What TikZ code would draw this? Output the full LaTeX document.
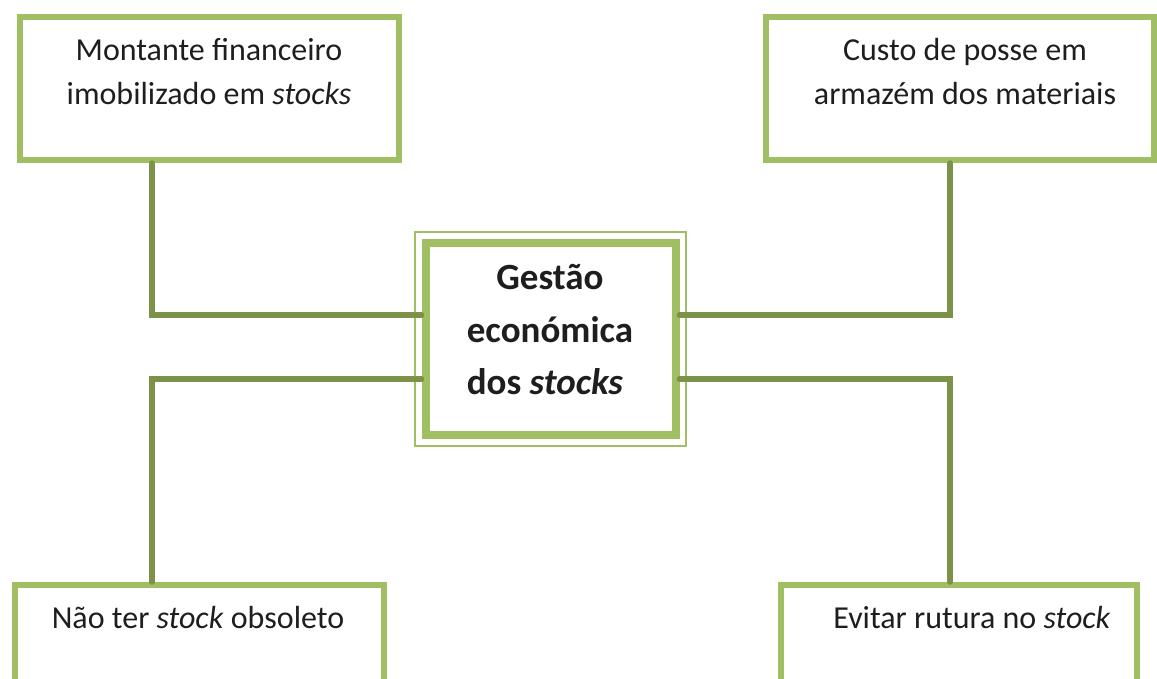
\documentclass[tikz,border=0pt]{standalone}
\usepackage{fontspec}
\setmainfont{Carlito}
\definecolor{boxgreen}{RGB}{160,190,98}
\definecolor{linkgreen}{RGB}{124,146,72}
\definecolor{txt}{RGB}{30,30,30}
\tikzset{
  sidebox/.style={draw=boxgreen, line width=6pt, fill=white, inner sep=0pt},
  link/.style={draw=linkgreen, line width=5.5pt, line cap=round},
  lbl/.style={font=\fontsize{32}{48}\selectfont, text=txt, align=center, anchor=base, inner sep=0pt},
  clbl/.style={font=\fontsize{37}{52}\selectfont\bfseries, text=txt, align=center, anchor=base, inner sep=0pt},
}
\begin{document}
\begin{tikzpicture}[x=1pt,y=-1pt]
\useasboundingbox (0,0) rectangle (1157,679);
\clip (0,0) rectangle (1157,679);
% boxes
\node[sidebox, minimum width=379pt, minimum height=143pt] (tl) at (209.5,88.5) {};
\node[sidebox, minimum width=388pt, minimum height=143pt] (tr) at (960,88.5) {};
\node[sidebox, minimum width=369pt, minimum height=143pt] (bl) at (199.5,656.5) {};
\node[sidebox, minimum width=356pt, minimum height=143pt] (br) at (959,656.5) {};
\node[draw=boxgreen, line width=8pt, fill=white, minimum width=250pt, minimum height=192pt, inner sep=0pt] (c) at (550.5,339) {};
\draw[boxgreen, line width=2pt] ([shift={(-6.5,-6.5)}]c.north west) rectangle ([shift={(6.5,6.5)}]c.south east);
% connectors
\draw[link] ([xshift=-57.5pt]tl.south) |- ([yshift=24pt]c.west);
\draw[link] ([xshift=-10pt]tr.south) |- ([yshift=24pt]c.east);
\draw[link] ([yshift=-40pt]c.west) -| ([xshift=-47.5pt]bl.north);
\draw[link] ([yshift=-40pt]c.east) -| ([xshift=-9pt]br.north);
% texts
\node[lbl] (t1) at (209,61) {Montante financeiro};
\node[lbl] (t2) at (209,105) {imobilizado em \textit{stocks}};
\node[lbl] (t3) at (965,61) {Custo de posse em};
\node[lbl] (t4) at (965,105) {armazém dos materiais};
\node[lbl] (t5) at (198,628) {Não ter \textit{stock} obsoleto};
\node[lbl] (t6) at (972,628) {Evitar rutura no \textit{stock}};
\node[clbl] (c1) at (550,290) {Gestão};
\node[clbl] (c2) at (550,342) {económica};
\node[clbl] (c3) at (545,394) {dos \textit{stocks}};
\end{tikzpicture}
\end{document}
